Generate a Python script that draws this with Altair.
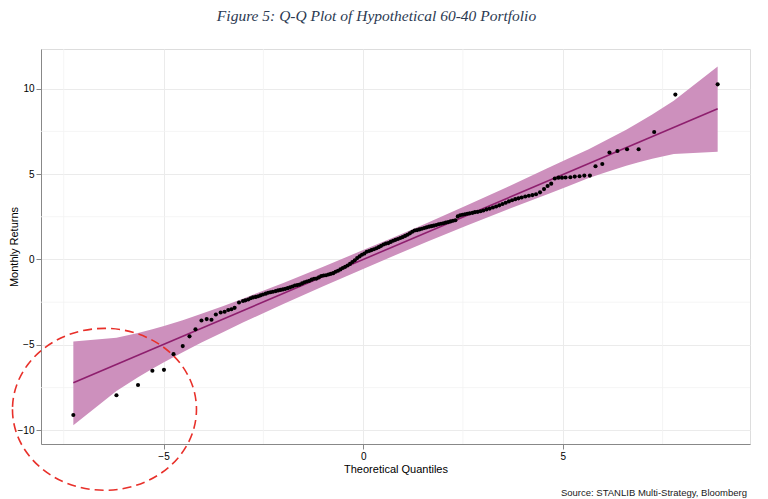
import altair as alt
import pandas as pd

# Sample vs theoretical quantiles of the hypothetical 60-40 portfolio monthly returns
theo_q = [
    -7.26, -6.18, -5.64, -5.28, -4.99, -4.75, -4.52, -4.35, -4.20, -4.05,
    -3.92, -3.80, -3.69, -3.57, -3.47, -3.38, -3.30, -3.22, -3.11, -3.01,
    -2.95, -2.88, -2.82, -2.76, -2.69, -2.63, -2.57, -2.51, -2.44, -2.38,
    -2.32, -2.26, -2.19, -2.13, -2.07, -2.01,
    -1.95, -1.89, -1.83, -1.77, -1.71, -1.65, -1.59, -1.53, -1.47, -1.41,
    -1.35, -1.29, -1.23, -1.17, -1.11, -1.05, -0.99,
    -0.93, -0.87, -0.81, -0.75, -0.69, -0.63, -0.57, -0.51, -0.45, -0.39,
    -0.33, -0.27, -0.21, -0.15, -0.09, -0.03,
    0.03, 0.09, 0.15, 0.21, 0.27, 0.33, 0.39, 0.45, 0.51, 0.57,
    0.63, 0.69, 0.75, 0.81, 0.87, 0.93, 0.99,
    1.05, 1.11, 1.17, 1.23, 1.29, 1.35, 1.41, 1.47, 1.53, 1.59,
    1.65, 1.71, 1.77, 1.83, 1.89, 1.95,
    2.01, 2.07, 2.13, 2.19, 2.25, 2.31, 2.37, 2.43, 2.49, 2.55,
    2.61, 2.67, 2.74, 2.80, 2.87, 2.94,
    3.01, 3.09, 3.17, 3.25, 3.33, 3.41, 3.49, 3.57, 3.65, 3.73,
    3.81, 3.89, 3.97, 4.06, 4.15, 4.24, 4.33, 4.43, 4.53, 4.62,
    4.71, 4.80, 4.89, 4.98, 5.07, 5.19, 5.30, 5.42, 5.54, 5.68,
    5.82, 5.99, 6.17, 6.37, 6.61, 6.90, 7.29, 7.82, 8.88,
]
sample_q = [
    -9.10, -7.95, -7.35, -6.51, -6.46, -5.54, -5.07, -4.50, -4.09, -3.57,
    -3.49, -3.53, -3.22, -3.10, -3.06, -2.96, -2.91, -2.83, -2.52, -2.43,
    -2.39, -2.34, -2.27, -2.22, -2.19, -2.15, -2.10, -2.05, -2.00, -1.95,
    -1.92, -1.89, -1.85, -1.81, -1.78, -1.75,
    -1.72, -1.68, -1.63, -1.58, -1.52, -1.50, -1.47, -1.40, -1.33, -1.29,
    -1.25, -1.18, -1.13, -1.12, -1.05, -0.97, -0.94,
    -0.92, -0.88, -0.84, -0.80, -0.72, -0.66, -0.58, -0.50, -0.43, -0.35,
    -0.26, -0.15, -0.05, 0.08, 0.18, 0.28,
    0.35, 0.45, 0.50, 0.55, 0.60, 0.66, 0.72, 0.80, 0.88, 0.93,
    0.96, 1.03, 1.10, 1.15, 1.20, 1.26, 1.31,
    1.38, 1.45, 1.53, 1.62, 1.70, 1.72, 1.76, 1.80, 1.84, 1.88,
    1.92, 1.95, 1.98, 2.02, 2.06, 2.09,
    2.12, 2.16, 2.19, 2.23, 2.27, 2.30, 2.52, 2.59, 2.62, 2.65,
    2.68, 2.70, 2.73, 2.77, 2.79, 2.82,
    2.87, 2.93, 2.98, 3.04, 3.10, 3.17, 3.25, 3.32, 3.40, 3.47,
    3.53, 3.58, 3.63, 3.69, 3.73, 3.77, 3.82, 3.93, 4.12, 4.30,
    4.44, 4.74, 4.79, 4.79, 4.80, 4.81, 4.85, 4.87, 4.91, 4.91,
    5.46, 5.59, 6.26, 6.35, 6.45, 6.45, 7.46, 9.65, 10.25,
]

# Reference line through the quantiles
line_x = [-7.26, 8.88]
line_y = [-7.21, 8.82]

# Pointwise confidence band around the reference line
band_x = [-7.26, -6.18, -5.64, -5.28, -4.99, -4.52, -4.05, -3.50, -3.00, -2.00,
          -1.00, 0.00, 0.80, 1.60, 2.60, 3.60, 4.60, 5.10, 5.65, 6.12,
          6.59, 6.88, 7.24, 7.78, 8.88]
band_lo = [-9.70, -7.70, -6.90, -6.40, -6.02, -5.43, -4.86, -4.24, -3.68, -2.61,
           -1.56, -0.55, 0.25, 1.04, 1.99, 2.91, 3.81, 4.26, 4.77, 5.14,
           5.48, 5.67, 5.89, 6.17, 6.30]
band_hi = [-4.80, -4.58, -4.30, -4.08, -3.90, -3.55, -3.18, -2.72, -2.28, -1.37,
           -0.42, 0.55, 1.33, 2.14, 3.17, 4.23, 5.33, 5.86, 6.45, 7.02,
           7.60, 7.99, 8.49, 9.29, 11.30]

x_major = [-5, 0, 5]
x_minor = [-7.5, -2.5, 2.5, 7.5]
y_major = [-10, -5, 0, 5, 10]
y_minor = [-7.5, -2.5, 2.5, 7.5]

X_DOMAIN = [-8.07, 9.69]
Y_DOMAIN = [-10.80, 12.32]

pts = pd.DataFrame({"theo": theo_q, "sample": sample_q})
band = pd.DataFrame({"theo": band_x, "lo": band_lo, "hi": band_hi})
ref = pd.DataFrame({"theo": line_x, "fit": line_y})

xs = alt.Scale(domain=X_DOMAIN, nice=False, zero=False)
ys = alt.Scale(domain=Y_DOMAIN, nice=False, zero=False)

GRID = "#ebebeb"

minor_v = alt.Chart(pd.DataFrame({"v": x_minor})).mark_rule(
    color="#f3f3f3", strokeWidth=0.8
).encode(x=alt.X("v:Q", scale=xs))
minor_h = alt.Chart(pd.DataFrame({"v": y_minor})).mark_rule(
    color="#f3f3f3", strokeWidth=0.8
).encode(y=alt.Y("v:Q", scale=ys))

band_layer = alt.Chart(band).mark_area(color="#cd90bd", opacity=1).encode(
    x=alt.X(
        "theo:Q",
        scale=xs,
        title="Theoretical Quantiles",
        axis=alt.Axis(values=x_major, grid=True, gridColor=GRID, gridWidth=1,
                      titlePadding=2, titleFontWeight="normal"),
    ),
    y=alt.Y(
        "lo:Q",
        scale=ys,
        title="Monthly Returns",
        axis=alt.Axis(values=y_major, grid=True, gridColor=GRID, gridWidth=1,
                      titleX=-27, titleY=197.5, titleAngle=270,
                      titleBaseline="middle", titleAlign="center",
                      titleFontWeight="normal"),
    ),
    y2="hi:Q",
)

line_layer = alt.Chart(ref).mark_line(color="#8e1f6e", strokeWidth=1.6).encode(
    x=alt.X("theo:Q", scale=xs), y=alt.Y("fit:Q", scale=ys)
)

point_layer = alt.Chart(pts).mark_circle(color="#000000", size=17, opacity=1).encode(
    x=alt.X("theo:Q", scale=xs), y=alt.Y("sample:Q", scale=ys)
)

# Dashed ellipse highlighting the left tail
ellipse_path = "M -1 0 A 1 0.88 0 1 0 1 0 A 1 0.88 0 1 0 -1 0 Z"
ellipse = alt.Chart(pd.DataFrame({"cx": [-6.48], "cy": [-8.77]})).mark_point(
    shape=ellipse_path,
    size=33856,
    filled=False,
    stroke="#e8302a",
    strokeWidth=1.6,
    strokeDash=[9, 5],
    opacity=1,
).encode(x=alt.X("cx:Q", scale=xs), y=alt.Y("cy:Q", scale=ys))

source = alt.Chart(pd.DataFrame({"t": ["Source: STANLIB Multi-Strategy, Bloomberg"]})).mark_text(
    align="right", baseline="middle", font="Liberation Sans", fontSize=9.5, color="#1a1a1a"
).encode(text="t:N", x=alt.value(706), y=alt.value(444))

chart = (
    alt.layer(minor_v, minor_h, band_layer, line_layer, point_layer, ellipse, source)
    .properties(
        width=709,
        height=395,
        autosize="none",
        padding={"left": 41, "top": 49, "right": 18, "bottom": 55},
        title=alt.TitleParams(
            text="Figure 5: Q-Q Plot of Hypothetical 60-40 Portfolio",
            font="Liberation Serif",
            fontStyle="italic",
            fontWeight=400,
            fontSize=15.5,
            color="#2c3a52",
            anchor="middle",
            dx=-19,
            offset=24,
        ),
    )
    .configure_view(stroke="#6b6b6b", strokeWidth=1)
    .configure_axis(
        domain=False,
        labelFont="Liberation Sans",
        labelFontSize=10,
        labelColor="#4d4d4d",
        titleFont="Liberation Sans",
        titleFontSize=12.5,
        titleColor="#1a1a1a",
        tickColor="#4d4d4d",
        tickSize=3,
        labelPadding=2,
    )
    .configure(background="white")
)

chart.save("out.html", embed_options={"renderer": "svg", "actions": False})
